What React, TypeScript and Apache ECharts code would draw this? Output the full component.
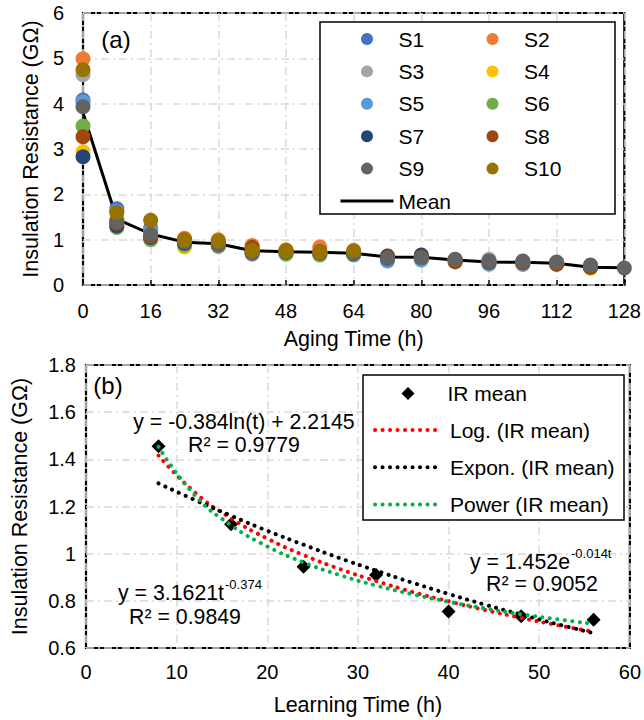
import React, { useEffect, useRef } from "react";
import * as echarts from "echarts";

// ---------- (a) Aging data ----------
const agingTimes = [0, 8, 16, 24, 32, 40, 48, 56, 64, 72, 80, 88, 96, 104, 112, 120, 128];
const s1 = [4.08, 1.68, 1.25, 0.95, 0.92, 0.75, 0.74, 0.7, 0.68, 0.58, 0.57, 0.53, 0.48, 0.46, 0.47, 0.4, null];
const s2 = [4.99, 1.45, 1.1, 1.03, 1.0, 0.87, 0.75, 0.84, 0.72, null, null, null, null, null, null, null, null];
const s3 = [4.64, 1.42, 1.05, 0.93, 0.85, 0.68, 0.7, 0.68, 0.7, 0.62, 0.63, 0.56, 0.57, 0.51, 0.49, 0.4, null];
const s4 = [2.94, 1.35, 1.03, 0.84, 0.88, 0.72, 0.78, 0.7, 0.7, 0.6, 0.6, 0.54, 0.5, 0.5, 0.48, 0.37, null];
const s5 = [4.04, 1.62, 1.2, 0.96, 0.9, 0.7, 0.72, 0.69, 0.66, 0.53, 0.55, 0.52, 0.46, 0.47, 0.46, 0.39, null];
const s6 = [3.51, 1.27, 1.0, 0.88, 0.86, 0.74, 0.68, 0.66, 0.68, null, null, null, null, null, null, null, null];
const s7 = [2.83, 1.3, 1.05, 0.92, 0.9, 0.73, 0.73, 0.71, 0.7, 0.64, 0.66, 0.55, 0.5, 0.5, 0.48, 0.4, null];
const s8 = [3.27, 1.36, 1.07, 1.0, 0.95, 0.83, 0.76, 0.74, 0.71, 0.61, 0.62, 0.51, 0.51, 0.49, 0.46, 0.39, null];
const s9 = [3.93, 1.4, 1.12, 0.95, 0.88, 0.7, 0.72, 0.7, 0.69, 0.58, 0.6, 0.57, 0.53, 0.53, 0.51, 0.44, 0.375];
const s10 = [4.75, 1.6, 1.43, 0.99, 0.97, 0.76, 0.75, 0.73, 0.76, null, null, null, null, null, null, null, null];
const meanValues = [3.8, 1.455, 1.125, 0.945, 0.91, 0.755, 0.735, 0.72, 0.7, 0.62, 0.61, 0.55, 0.51, 0.5, 0.48, 0.39, 0.38];

const sampleNames = ["S1", "S2", "S3", "S4", "S5", "S6", "S7", "S8", "S9", "S10"];
const sampleValues = [s1, s2, s3, s4, s5, s6, s7, s8, s9, s10];
const sampleColors = ["#4472C4", "#ED7D31", "#A5A5A5", "#FFC000", "#5B9BD5", "#70AD47", "#264478", "#9E480E", "#636363", "#997300"];

// ---------- (b) Learning data ----------
const learningTimes = [8, 16, 24, 32, 40, 48, 56];
const irMean = [1.455, 1.125, 0.945, 0.91, 0.755, 0.735, 0.72];
const trendTimes = [8, 12, 16, 20, 24, 28, 32, 36, 40, 44, 48, 52, 56];
const logTrend = [1.416, 1.26, 1.15, 1.064, 0.994, 0.935, 0.884, 0.838, 0.798, 0.761, 0.728, 0.697, 0.669];
const expTrend = [1.298, 1.228, 1.161, 1.097, 1.038, 0.981, 0.928, 0.877, 0.829, 0.784, 0.742, 0.701, 0.663];
const powTrend = [1.453, 1.248, 1.121, 1.031, 0.963, 0.909, 0.865, 0.828, 0.796, 0.768, 0.743, 0.722, 0.702];

const FONT = "Liberation Sans, Arial, sans-serif";

function pairs(xs: number[], ys: (number | null)[]) {
  const out: number[][] = [];
  xs.forEach((x, i) => {
    const y = ys[i];
    if (y !== null && y !== undefined) out.push([x, y]);
  });
  return out;
}

export default function App() {
  const ref = useRef<HTMLDivElement>(null);
  useEffect(() => {
    if (!ref.current) return;
    const chart = echarts.init(ref.current, undefined, { renderer: "svg" });
    const gridLine = { show: true, lineStyle: { color: "#d9d9d9", width: 1.5, type: [8, 4, 2, 4] } };
    const labelStyle = { color: "#000", fontSize: 20, fontFamily: FONT };
    const nameStyle = { color: "#000", fontSize: 21.5, fontFamily: FONT };
    const dash = [0.1, 7.4];
    const dotted = (color: string) => ({ color, width: 4, type: dash, cap: "round" as const });

    const trend = (name: string, values: number[], color: string) => ({
      name,
      type: "line",
      xAxisIndex: 1,
      yAxisIndex: 1,
      data: pairs(trendTimes, values),
      smooth: true,
      symbol: "none",
      lineStyle: dotted(color),
      itemStyle: { color, opacity: 0 },
      z: 4,
    });

    const series: any[] = [
      {
        name: "Mean",
        type: "line",
        xAxisIndex: 0,
        yAxisIndex: 0,
        data: pairs(agingTimes, meanValues),
        symbol: "none",
        lineStyle: { color: "#000", width: 3 },
        itemStyle: { color: "#000", opacity: 0 },
        z: 2,
      },
      ...sampleNames.map((n, i) => ({
        name: n,
        type: "scatter",
        xAxisIndex: 0,
        yAxisIndex: 0,
        data: pairs(agingTimes, sampleValues[i]),
        symbol: "circle",
        symbolSize: 15,
        itemStyle: { color: sampleColors[i], opacity: 1 },
        z: 3,
      })),
      {
        name: "IR mean",
        type: "scatter",
        xAxisIndex: 1,
        yAxisIndex: 1,
        data: pairs(learningTimes, irMean),
        symbol: "diamond",
        symbolSize: 14,
        itemStyle: { color: "#000", opacity: 1 },
        z: 3,
      },
      trend("Log. (IR mean)", logTrend, "#FF0000"),
      trend("Expon. (IR mean)", expTrend, "#000000"),
      trend("Power (IR mean)", powTrend, "#00B050"),
    ];

    const legendBase = {
      orient: "vertical",
      padding: 0,
      itemWidth: 53,
      itemHeight: 12,
      itemGap: 11.4,
      textStyle: { color: "#000", fontSize: 21, fontFamily: FONT, lineHeight: 20 },
      z: 6,
    };

    const mainText = (text: string, x: number, y: number, align: string, size = 21.3) => ({
      type: "text",
      x,
      y,
      z: 10,
      style: { text, fill: "#000", font: `${size}px ${FONT}`, textAlign: align, textVerticalAlign: "middle" },
    });

    chart.setOption({
      animation: false,
      backgroundColor: "#fff",
      grid: [
        { left: 83, top: 13, width: 543, height: 272, show: true, borderColor: "#000", borderWidth: 2.2, backgroundColor: "transparent" },
        { left: 86, top: 365, width: 546, height: 283, show: true, borderColor: "#000", borderWidth: 2.2, backgroundColor: "transparent" },
      ],
      xAxis: [
        {
          type: "value",
          gridIndex: 0,
          min: 0,
          max: 128,
          interval: 16,
          axisLine: { show: false },
          axisTick: { show: true, inside: true, length: 5, lineStyle: { color: "#000", width: 1.5 } },
          axisLabel: { ...labelStyle, margin: 16 },
          splitLine: gridLine,
          name: "Aging Time (h)",
          nameLocation: "middle",
          nameGap: 43,
          nameTextStyle: nameStyle,
        },
        {
          type: "value",
          gridIndex: 1,
          min: 0,
          max: 60,
          interval: 10,
          axisLine: { show: false },
          axisTick: { show: false },
          axisLabel: { ...labelStyle, margin: 14 },
          splitLine: gridLine,
          name: "Learning Time (h)",
          nameLocation: "middle",
          nameGap: 46,
          nameTextStyle: nameStyle,
        },
      ],
      yAxis: [
        {
          type: "value",
          gridIndex: 0,
          min: 0,
          max: 6,
          interval: 1,
          axisLine: { show: false },
          axisTick: { show: false },
          axisLabel: { ...labelStyle, margin: 19 },
          splitLine: gridLine,
          name: "Insulation Resistance (GΩ)",
          nameLocation: "middle",
          nameGap: 38,
          nameTextStyle: nameStyle,
        },
        {
          type: "value",
          gridIndex: 1,
          min: 0.6,
          max: 1.8,
          interval: 0.2,
          axisLine: { show: false },
          axisTick: { show: false },
          axisLabel: { ...labelStyle, margin: 10 },
          splitLine: gridLine,
          name: "Insulation Resistance (GΩ)",
          nameLocation: "middle",
          nameGap: 55,
          nameTextStyle: nameStyle,
        },
      ],
      legend: [
        { ...legendBase, left: 339, top: 28.5, lineStyle: { width: 3 }, data: ["S1", "S3", "S5", "S7", "S9", "Mean"] },
        { ...legendBase, left: 486.5, top: 28.5, data: ["S2", "S4", "S6", "S8", "S10"] },
        {
          ...legendBase,
          left: 401.5,
          top: 383,
          itemWidth: 13,
          itemHeight: 13,
          textStyle: { ...legendBase.textStyle, padding: [0, 0, 0, 28] },
          data: ["IR mean"],
        },
        {
          ...legendBase,
          left: 373,
          top: 419.5,
          itemWidth: 67,
          itemHeight: 13,
          itemGap: 16.3,
          lineStyle: { width: 4, type: dash, cap: "round" },
          textStyle: { ...legendBase.textStyle, padding: [0, 0, 0, 3] },
          data: ["Log. (IR mean)", "Expon. (IR mean)", "Power (IR mean)"],
        },
      ],
      graphic: [
        { type: "rect", z: 5, shape: { x: 320, y: 22, width: 295, height: 192 }, style: { fill: "#fff", stroke: "#000", lineWidth: 1.5 } },
        { type: "rect", z: 5, shape: { x: 363, y: 375, width: 261, height: 145 }, style: { fill: "#fff", stroke: "#000", lineWidth: 1.5 } },
        mainText("(a)", 116, 39, "center", 24),
        mainText("(b)", 108, 385, "center", 24),
        mainText("y = -0.384ln(t) + 2.2145", 244, 422, "center"),
        mainText("R² = 0.9779", 244, 445, "center"),
        mainText("y = 3.1621t", 224, 593, "right"),
        mainText("-0.374", 225, 584, "left", 13),
        mainText("R² = 0.9849", 185, 617, "center"),
        mainText("y = 1.452e", 570, 562, "right"),
        mainText("-0.014t", 571, 553, "left", 13),
        mainText("R² = 0.9052", 542, 584, "center"),
      ],
      series,
    });
    return () => chart.dispose();
  }, []);
  return <div ref={ref} style={{ position: "absolute", left: 0, top: 0, width: 644, height: 720 }} />;
}
